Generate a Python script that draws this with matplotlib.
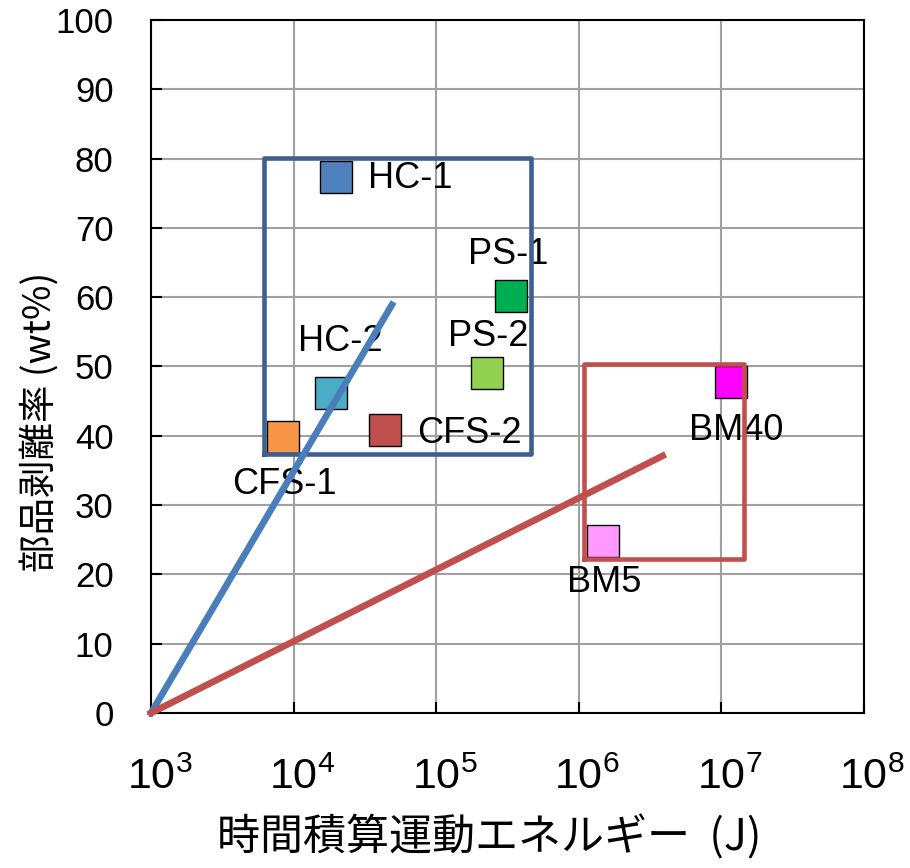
import numpy as np
import matplotlib
matplotlib.use("Agg")
import matplotlib.pyplot as plt
import matplotlib.transforms as mtransforms

plt.rcParams['font.family'] = ['Liberation Sans', 'Noto Sans CJK JP', 'DejaVu Sans']
plt.rcParams['mathtext.fontset'] = 'custom'
plt.rcParams['mathtext.rm'] = 'Lato'
plt.rcParams['mathtext.it'] = 'Lato:italic'
plt.rcParams['mathtext.bf'] = 'Lato:bold'

# samples: time-integrated kinetic energy (J) vs. part separation ratio (wt%)
names = ['HC-1', 'HC-2', 'CFS-1', 'CFS-2', 'PS-1', 'PS-2', 'BM5', 'BM40']
energy = [2.0e4, 1.83e4, 8.4e3, 4.38e4, 3.35e5, 2.27e5, 1.48e6, 1.17e7]
ratio = [77.3, 46.2, 39.8, 40.8, 60.2, 49.1, 24.8, 47.8]
colors = ['#4F81BD', '#4BACC6', '#F79646', '#C0504D',
          '#00B050', '#92D050', '#FF99FF', '#FF00FF']

# trend lines
blue_x = [1e3, 4.9e4]
blue_y = [0, 58.9]
red_x = [1e3, 3.89e6]
red_y = [0, 37.1]

# group boxes (xmin, xmax, ymin, ymax)
blue_box = [6.2e3, 4.62e5, 37.4, 80.1]
red_box = [1.10e6, 1.44e7, 22.2, 50.4]

xticks = [1e3, 1e4, 1e5, 1e6, 1e7, 1e8]
yticks = list(range(0, 101, 10))

# label offsets in points (dx, dy, ha)
label_pos = {
    'HC-1': (23, -1, 'left'),
    'HC-2': (7, 37, 'center'),
    'CFS-1': (1, -34, 'center'),
    'CFS-2': (23, -2, 'left'),
    'PS-1': (-2, 30, 'center'),
    'PS-2': (1, 26, 'center'),
    'BM5': (1, -30, 'center'),
    'BM40': (4, -35, 'center'),
}

fig = plt.figure(figsize=(9.1, 8.68), dpi=100)
ax = fig.add_axes([0.166, 0.1786, 0.783, 0.7984])

ax.set_xscale('log')
ax.set_xlim(1e3, 1e8)
ax.set_ylim(0, 100)
ax.set_xticks(xticks)
ax.set_xticklabels([r'$\mathregular{10^{%d}}$' % int(np.log10(v)) for v in xticks])
ax.minorticks_off()
ax.set_yticks(yticks)
ax.set_axisbelow(True)
ax.grid(True, color='#A0A0A0', linewidth=1.5)

for s in ax.spines.values():
    s.set_color('black')
    s.set_linewidth(1.5)

ax.tick_params(axis='y', direction='in', length=8, width=1.5, pad=27, labelsize=25)
ax.tick_params(axis='x', direction='in', length=8, width=1.5, pad=32, labelsize=31)
shift = mtransforms.ScaledTranslation(6 / 72, 0, fig.dpi_scale_trans)
for lab in ax.get_xticklabels():
    lab.set_transform(lab.get_transform() + shift)

for n, x, y, c in zip(names, energy, ratio, colors):
    ax.plot(x, y, marker='s', markersize=23, markerfacecolor=c,
            markeredgecolor='black', markeredgewidth=1.0, linestyle='none', zorder=3)
    dx, dy, ha = label_pos[n]
    ax.annotate(n, (x, y), xytext=(dx, dy), textcoords='offset points',
                ha=ha, va='center', fontsize=26, zorder=4)

for box, c in [(blue_box, '#3D6090'), (red_box, '#C0504D')]:
    x0, x1, y0, y1 = box
    ax.plot([x0, x1, x1, x0, x0], [y0, y0, y1, y1, y0], color=c,
            linewidth=3.3, solid_joinstyle='round', zorder=5)

ax.plot(blue_x, blue_y, color='#4A7EBB', linewidth=4.8, zorder=6, clip_on=False)
ax.plot(red_x, red_y, color='#C0504D', linewidth=4.8, zorder=6, clip_on=False)

ax.set_xlabel('時間積算運動エネルギー  (J)', fontsize=31,
              family=['Noto Sans CJK JP', 'DejaVu Sans'])
ax.set_ylabel('部品剥離率 (wt%)', fontsize=27,
              family=['Noto Sans CJK JP', 'DejaVu Sans'])
ax.xaxis.set_label_coords(0.475, -0.148)
ax.yaxis.set_label_coords(-0.128, 0.42)

fig.savefig('out.png', dpi=100)
